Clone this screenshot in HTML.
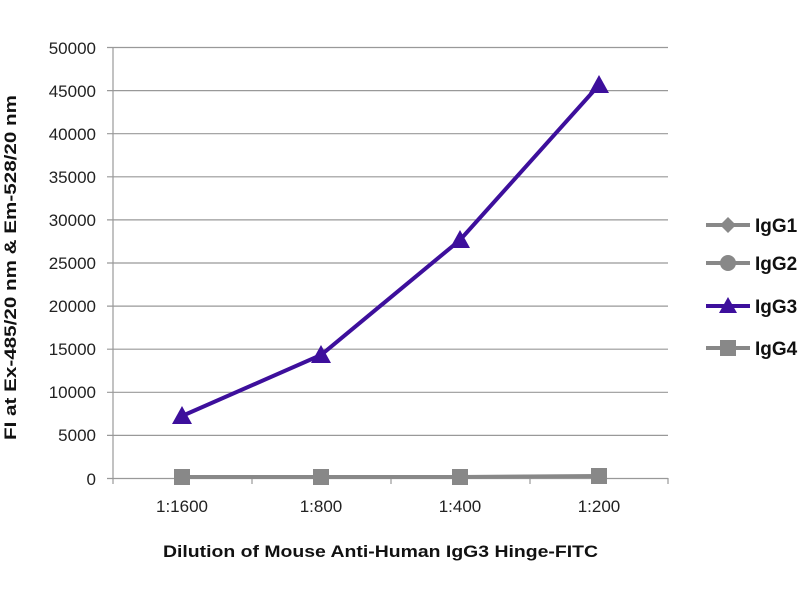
<!DOCTYPE html>
<html><head><style>body{margin:0;background:#fff}svg{display:block}</style></head><body>
<svg width="800" height="600" xmlns="http://www.w3.org/2000/svg" font-family="Liberation Sans, sans-serif">
<g stroke="#999" stroke-width="1.2">
<line x1="107" y1="47.5" x2="668" y2="47.5"/><line x1="107" y1="90.6" x2="668" y2="90.6"/>
<line x1="107" y1="133.7" x2="668" y2="133.7"/><line x1="107" y1="176.8" x2="668" y2="176.8"/>
<line x1="107" y1="219.9" x2="668" y2="219.9"/><line x1="107" y1="263" x2="668" y2="263"/>
<line x1="107" y1="306.1" x2="668" y2="306.1"/><line x1="107" y1="349.2" x2="668" y2="349.2"/>
<line x1="107" y1="392.3" x2="668" y2="392.3"/><line x1="107" y1="435.4" x2="668" y2="435.4"/>
<line x1="107" y1="478.5" x2="668" y2="478.5"/>
<line x1="113" y1="47" x2="113" y2="484"/>
<line x1="252" y1="478" x2="252" y2="484"/><line x1="391" y1="478" x2="391" y2="484"/>
<line x1="530" y1="478" x2="530" y2="484"/><line x1="668" y1="478" x2="668" y2="484"/>
</g>
<g font-size="17" fill="#222" text-anchor="end">
<text x="96" y="54">50000</text><text x="96" y="97">45000</text><text x="96" y="140">40000</text>
<text x="96" y="183">35000</text><text x="96" y="226">30000</text><text x="96" y="269">25000</text>
<text x="96" y="312">20000</text><text x="96" y="355">15000</text><text x="96" y="398">10000</text>
<text x="96" y="441">5000</text><text x="96" y="485">0</text>
</g>
<g font-size="17" fill="#222" text-anchor="middle">
<text x="182" y="512">1:1600</text><text x="321" y="512">1:800</text>
<text x="460" y="512">1:400</text><text x="599" y="512">1:200</text>
</g>
<text x="163" y="557" font-size="17" font-weight="bold" fill="#111" textLength="435" lengthAdjust="spacingAndGlyphs">Dilution of Mouse Anti-Human IgG3 Hinge-FITC</text>
<text transform="translate(16,440) rotate(-90)" font-size="17" font-weight="bold" fill="#111" textLength="345" lengthAdjust="spacingAndGlyphs">FI at Ex-485/20 nm &amp; Em-528/20 nm</text>
<polyline points="182,477 321,477 460,477 599,476" fill="none" stroke="#888" stroke-width="4"/>
<g fill="#888"><rect x="174" y="469" width="16" height="16"/><rect x="313" y="469" width="16" height="16"/><rect x="452" y="469" width="16" height="16"/><rect x="591" y="468" width="16" height="16"/></g>
<polyline points="182,416 321,355 460,240 599,85" fill="none" stroke="#3d0f9c" stroke-width="4"/>
<g fill="#3d0f9c">
<polygon points="182,406 192,424 172,424"/><polygon points="321,345 331,363 311,363"/>
<polygon points="460,230 470,248 450,248"/><polygon points="599,75 609,93 589,93"/>
</g>
<g stroke-width="4">
<line x1="706" y1="225" x2="750" y2="225" stroke="#888"/><polygon points="728,217 736,225 728,233 720,225" fill="#888"/>
<line x1="706" y1="263" x2="750" y2="263" stroke="#888"/><circle cx="728" cy="263" r="8" fill="#888"/>
<line x1="706" y1="306" x2="750" y2="306" stroke="#3d0f9c"/><polygon points="728,297 737,313 719,313" fill="#3d0f9c"/>
<line x1="706" y1="348" x2="750" y2="348" stroke="#888"/><rect x="720" y="340" width="16" height="16" fill="#888"/>
</g>
<g font-size="19" font-weight="bold" fill="#111">
<text x="755" y="232">IgG1</text><text x="755" y="270">IgG2</text>
<text x="755" y="313">IgG3</text><text x="755" y="355">IgG4</text>
</g>
</svg>
</body></html>
